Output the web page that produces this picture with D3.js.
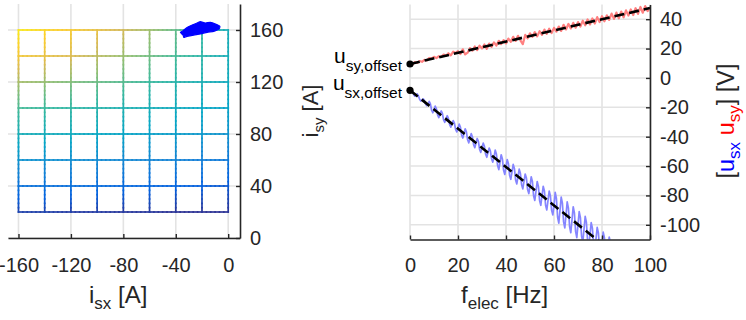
<!DOCTYPE html>
<html><head><meta charset="utf-8">
<script src="https://cdn.jsdelivr.net/npm/d3@7"></script>
<style>body{margin:0;background:#fff}svg{display:block;font-family:"Liberation Sans",Arial,sans-serif}</style>
</head><body><svg id="c" width="746" height="320"></svg>
<script>
// ---------- data: left panel (current plane) ----------
const isxTicks = [-160, -120, -80, -40, 0];
const isyTicks = [0, 40, 80, 120, 160];
const meshIsx = [-160, -140, -120, -100, -80, -60, -40, -20, 0];
const meshIsy = [20, 40, 60, 80, 100, 120, 140, 160];
// colour level of each mesh node (rows = meshIsy, cols = meshIsx)
const meshLevel = [
  [0.05, 0.05, 0.04, 0.04, 0.03, 0.03, 0.02, 0.02, 0.02],
  [0.18, 0.18, 0.17, 0.16, 0.15, 0.14, 0.13, 0.12, 0.10],
  [0.30, 0.29, 0.28, 0.27, 0.26, 0.25, 0.24, 0.22, 0.20],
  [0.42, 0.41, 0.40, 0.38, 0.37, 0.35, 0.34, 0.32, 0.30],
  [0.52, 0.50, 0.48, 0.46, 0.44, 0.42, 0.40, 0.38, 0.36],
  [0.66, 0.63, 0.60, 0.57, 0.54, 0.50, 0.46, 0.43, 0.40],
  [0.84, 0.80, 0.76, 0.70, 0.64, 0.58, 0.52, 0.47, 0.42],
  [0.95, 0.90, 0.86, 0.80, 0.74, 0.65, 0.56, 0.48, 0.42]
];
const blobIsx = [-36.5, -34.4, -31.4, -27.5, -23.7, -21.2, -17.4, -13.6, -9.7, -6.4, -7.2, -11.0, -16.1, -21.2, -26.3, -31.4, -33.9, -34.4];
const blobIsy = [158.2, 159.4, 162.0, 163.8, 165.4, 166.4, 165.4, 165.9, 164.6, 162.8, 160.7, 159.0, 158.2, 156.9, 156.1, 155.1, 154.3, 156.1];

// ---------- data: right panel (voltage vs frequency) ----------
const freqTicks = [0, 20, 40, 60, 80, 100];
const voltTicks = [-100, -80, -60, -40, -20, 0, 20, 40];
const usyStep = 1;   // Hz between samples
const usy = [
  9.0, 9.0, 10.8, 10.2, 11.5, 11.0, 12.3, 11.9, 13.6, 13.2,
  14.4, 13.5, 14.8, 14.2, 15.9, 15.0, 16.8, 15.4, 17.9, 17.0,
  18.2, 16.3, 19.5, 16.0, 17.2, 20.3, 18.6, 21.4, 19.0, 22.0,
  20.1, 22.8, 19.8, 23.4, 21.2, 24.2, 22.0, 25.3, 23.1, 25.8,
  23.5, 26.8, 24.6, 28.0, 25.2, 28.7, 25.6, 23.0, 29.3, 27.0,
  30.4, 28.0, 31.2, 28.3, 31.8, 29.4, 32.9, 30.0, 33.5, 30.6,
  34.1, 31.5, 35.0, 32.0, 36.2, 33.0, 36.8, 33.7, 37.5, 34.2,
  38.0, 35.0, 39.0, 35.8, 39.8, 36.4, 40.5, 37.0, 41.4, 38.0,
  42.0, 38.6, 42.6, 39.5, 43.8, 40.2, 44.5, 40.6, 45.2, 41.3,
  46.0, 42.5, 46.6, 42.8, 47.5, 43.6, 48.3, 44.4, 48.9, 45.5,
  48.0
];
const usxStep = 0.5; // Hz between samples
const usx = [
  -8.4, -7.6, -8.8, -11.3, -12.4, -11.7, -10.9, -12.1, -14.5, -15.7,
  -14.9, -14.2, -15.3, -17.8, -18.9, -18.2, -15.9, -17.7, -22.0, -23.7,
  -21.5, -19.2, -21.0, -25.2, -27.0, -24.7, -22.5, -24.2, -28.5, -30.2,
  -28.0, -25.7, -27.5, -31.7, -33.5, -31.3, -29.0, -30.8, -35.0, -36.8,
  -34.5, -31.4, -33.4, -38.9, -40.9, -37.8, -34.6, -36.7, -42.1, -44.2,
  -41.1, -37.9, -40.0, -45.4, -47.5, -44.3, -41.2, -43.2, -48.7, -50.7,
  -47.6, -44.4, -46.5, -51.9, -54.0, -50.8, -47.7, -49.8, -55.2, -57.3,
  -54.1, -49.1, -51.8, -59.7, -62.4, -57.4, -52.3, -55.1, -62.9, -65.7,
  -60.6, -55.6, -58.3, -66.2, -69.0, -63.9, -58.9, -61.6, -69.5, -72.2,
  -67.2, -62.1, -64.9, -72.7, -75.5, -70.4, -65.4, -68.1, -76.0, -78.7,
  -73.7, -67.3, -70.5, -80.2, -83.4, -77.0, -70.5, -73.8, -83.4, -86.7,
  -80.2, -73.8, -77.0, -86.7, -89.9, -83.5, -77.0, -80.3, -90.0, -93.2,
  -86.8, -77.9, -82.1, -94.7, -98.9, -90.0, -81.2, -85.3, -98.0, -102.1,
  -93.3, -84.4, -88.6, -101.2, -105.4, -96.6, -87.7, -91.9, -104.5, -108.7,
  -99.8, -91.0, -95.1, -107.8, -111.9, -103.1, -94.2, -98.4, -111.0, -115.2,
  -106.4, -98.5, -102.3, -113.7, -117.5, -109.6, -101.8, -105.5, -117.0, -120.7,
  -112.9, -105.0, -108.8, -120.0, -122.0, -116.1, -108.3, -112.0, -122.0, -125.0,
  -118.0
];
const fitFreq = [0, 100];
const fitUsy = [9.5, 47.6];
const fitUsx = [-8.4, -139.0];

// ---------- drawing ----------
const svg = d3.select("#c");
const INK = "#262626", GRID = "#e3e3e3";
const parula = ["#352a87","#0363e1","#1485d4","#06a7c6","#38b99e","#92bf73","#d9ba56","#fcce2e","#f9fb0e"];
const cmap = d3.piecewise(d3.interpolateRgb, parula);

function styleAxis(g){
  g.select(".domain").attr("stroke", INK).attr("stroke-width", 1.6);
  g.selectAll(".tick line").attr("stroke", INK).attr("stroke-width", 1.4);
  g.selectAll(".tick text").attr("fill", INK).attr("font-size", 20)
   .attr("font-family", "'Liberation Sans', Arial, sans-serif");
}

// ===== Left panel =====
const xL = d3.scaleLinear().domain([-168, 9]).range([8, 240]);
const yL = d3.scaleLinear().domain([0, 180]).range([238, 4]);
const gL = svg.append("g");
gL.append("g").selectAll("line").data(isxTicks).join("line")
  .attr("x1", d => xL(d)).attr("x2", d => xL(d))
  .attr("y1", yL(0)).attr("y2", yL(180))
  .attr("stroke", GRID).attr("stroke-width", 1.6);
gL.append("g").selectAll("line").data(isyTicks).join("line")
  .attr("y1", d => yL(d)).attr("y2", d => yL(d))
  .attr("x1", xL(-168)).attr("x2", xL(9))
  .attr("stroke", GRID).attr("stroke-width", 1.6);

// mesh segments with colour gradient
const segs = [];
meshIsy.forEach((v, r) => meshIsx.forEach((u, c) => {
  if (c < meshIsx.length - 1) segs.push([u, v, meshLevel[r][c], meshIsx[c + 1], v, meshLevel[r][c + 1]]);
  if (r < meshIsy.length - 1) segs.push([u, v, meshLevel[r][c], u, meshIsy[r + 1], meshLevel[r + 1][c]]);
}));
const pieces = [];
const NP = 6;
segs.forEach(s => {
  for (let k = 0; k < NP; k++) {
    const t0 = k / NP, t1 = (k + 1) / NP, tm = (t0 + t1) / 2;
    pieces.push({
      x1: s[0] + (s[3] - s[0]) * t0, y1: s[1] + (s[4] - s[1]) * t0,
      x2: s[0] + (s[3] - s[0]) * t1, y2: s[1] + (s[4] - s[1]) * t1,
      c: s[2] + (s[5] - s[2]) * tm
    });
  }
});
gL.append("g").selectAll("line").data(pieces).join("line")
  .attr("x1", d => xL(d.x1)).attr("y1", d => yL(d.y1))
  .attr("x2", d => xL(d.x2)).attr("y2", d => yL(d.y2))
  .attr("stroke", d => cmap(d.c)).attr("stroke-width", 1.7).attr("stroke-linecap", "square");

// operating-point blob
const blobPts = blobIsx.map((d, i) => [xL(d), yL(blobIsy[i])]);
gL.append("path").attr("d", d3.line().curve(d3.curveCardinalClosed.tension(0.3))(blobPts))
  .attr("fill", "#0000ff").attr("stroke", "#0000ff").attr("stroke-width", 1.2);

const axLx = gL.append("g").attr("transform", `translate(0,${yL(0)})`)
  .call(d3.axisBottom(xL).tickValues(isxTicks).tickSize(-4).tickSizeOuter(0).tickPadding(19.5).tickFormat(d => String(d)));
styleAxis(axLx);
const axLy = gL.append("g").attr("transform", `translate(${xL(9)},0)`)
  .call(d3.axisRight(yL).tickValues(isyTicks).tickSize(-4).tickSizeOuter(0).tickPadding(10).tickFormat(d => String(d)));
styleAxis(axLy);

// labels left
const lx = svg.append("text").attr("x", 89).attr("y", 303).attr("fill", INK).attr("font-size", 24);
lx.append("tspan").text("i");
lx.append("tspan").attr("font-size", 17).attr("dy", 6).text("sx");
lx.append("tspan").attr("dy", -6).text(" [A]");

const ly = svg.append("text").attr("transform", "translate(318,111) rotate(-90)")
  .attr("text-anchor", "middle").attr("fill", INK).attr("font-size", 22);
ly.append("tspan").text("i");
ly.append("tspan").attr("font-size", 15).attr("dy", 6).text("sy");
ly.append("tspan").attr("dy", -6).text(" [A]");

// ===== Right panel =====
const xR = d3.scaleLinear().domain([0, 100]).range([410, 650]);
const yR = d3.scaleLinear().domain([-110, 50]).range([239.5, 4.5]);
const gR = svg.append("g");
gR.append("g").selectAll("line").data(freqTicks).join("line")
  .attr("x1", d => xR(d)).attr("x2", d => xR(d)).attr("y1", yR(-110)).attr("y2", yR(50))
  .attr("stroke", GRID).attr("stroke-width", 1.6);
gR.append("g").selectAll("line").data(voltTicks).join("line")
  .attr("y1", d => yR(d)).attr("y2", d => yR(d)).attr("x1", xR(0)).attr("x2", xR(100))
  .attr("stroke", GRID).attr("stroke-width", 1.6);

svg.append("defs").append("clipPath").attr("id", "clipR").append("rect")
  .attr("x", xR(0)).attr("y", yR(50)).attr("width", xR(100) - xR(0)).attr("height", yR(-110) - yR(50));
const plotR = gR.append("g").attr("clip-path", "url(#clipR)");

plotR.append("path").datum(usy)
  .attr("d", d3.line().x((d, i) => xR(i * usyStep)).y(d => yR(d)))
  .attr("fill", "none").attr("stroke", "#ff8080").attr("stroke-width", 2.2).attr("stroke-linejoin", "round");
plotR.append("path").datum(usx)
  .attr("d", d3.line().x((d, i) => xR(i * usxStep)).y(d => yR(d)))
  .attr("fill", "none").attr("stroke", "#8585ff").attr("stroke-width", 1.7).attr("stroke-linejoin", "round");

const fitLine = d3.line().x((d, i) => xR(fitFreq[i])).y(d => yR(d));
[fitUsy, fitUsx].forEach(f => {
  plotR.append("path").datum(f).attr("d", fitLine)
    .attr("fill", "none").attr("stroke", "#000").attr("stroke-width", 2.6).attr("stroke-dasharray", "10,5");
});

const axRx = gR.append("g").attr("transform", `translate(0,${yR(-110)})`)
  .call(d3.axisBottom(xR).tickValues(freqTicks).tickSize(-4).tickSizeOuter(0).tickPadding(18.5).tickFormat(d => String(d)));
styleAxis(axRx);
const axRy = gR.append("g").attr("transform", `translate(${xR(100)},0)`)
  .call(d3.axisRight(yR).tickValues(voltTicks).tickSize(-4).tickSizeOuter(0).tickPadding(10).tickFormat(d => String(d)));
styleAxis(axRy);

// offset dots
gR.append("g").selectAll("circle").data([fitUsy[0], fitUsx[0]]).join("circle")
  .attr("cx", xR(fitFreq[0])).attr("cy", d => yR(d)).attr("r", 3.6).attr("fill", "#000");

// offset annotations
[["sy,offset", fitUsy[0], -1], ["sx,offset", fitUsx[0], 0]].forEach(([sub, v, off]) => {
  const t = svg.append("text").attr("x", 402).attr("y", yR(v) + off).attr("text-anchor", "end")
    .attr("fill", "#000").attr("font-size", 21);
  t.append("tspan").text("u");
  t.append("tspan").attr("font-size", 15.5).attr("dy", 8).text(sub);
});

// axis labels right
const rx = svg.append("text").attr("x", 461).attr("y", 303).attr("fill", INK).attr("font-size", 24);
rx.append("tspan").text("f");
rx.append("tspan").attr("font-size", 17).attr("dy", 6).text("elec");
rx.append("tspan").attr("dy", -6).text(" [Hz]");

const ry = svg.append("text").attr("transform", "translate(734,121) rotate(-90)")
  .attr("text-anchor", "middle").attr("fill", INK).attr("font-size", 23.5);
ry.append("tspan").text("[");
ry.append("tspan").attr("fill", "#0000ff").text("u");
ry.append("tspan").attr("fill", "#0000ff").attr("font-size", 17).attr("dy", 6).text("sx");
ry.append("tspan").attr("dy", -6).text(" ");
ry.append("tspan").attr("fill", "#ff0000").text("u");
ry.append("tspan").attr("fill", "#ff0000").attr("font-size", 17).attr("dy", 6).text("sy");
ry.append("tspan").attr("dy", -6).text("] [V]");
</script>
</body></html>
